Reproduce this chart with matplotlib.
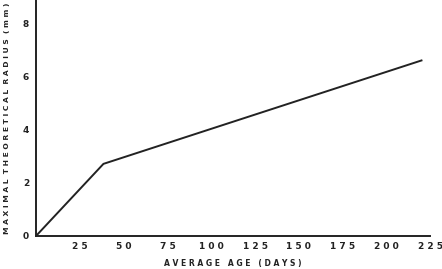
import numpy as np
import matplotlib.pyplot as plt

age = [0, 38.5, 220]
radius = [0, 2.72, 6.62]
xticks = [25, 50, 75, 100, 125, 150, 175, 200, 225]
yticks = [0, 2, 4, 6, 8]


def spaced(s):
    return " ".join(s)


fig = plt.figure(figsize=(4.42, 2.69), dpi=100)
ax = fig.add_axes([0.0814, 0.1227, 0.892, 0.8773])
ax.plot(age, radius, color="#222222", linewidth=1.4)
ax.set_xlim(0, 225)
ax.set_ylim(0, 8.9)
ax.set_xticks(xticks)
ax.set_xticklabels([spaced(str(t)) for t in xticks], fontsize=6.5, fontweight="bold", color="#222222")
ax.set_yticks(yticks)
ax.set_yticklabels([str(t) for t in yticks], fontsize=6.5, fontweight="bold", color="#222222")
ax.tick_params(axis="y", length=0, pad=5)
ax.tick_params(axis="x", length=0, pad=4)
for s in ["top", "right"]:
    ax.spines[s].set_visible(False)
for s in ["left", "bottom"]:
    ax.spines[s].set_linewidth(1.4)
    ax.spines[s].set_color("#222222")

ax.set_xlabel("A V E R A G E   A G E   ( D A Y S )", fontsize=5.5, fontweight="bold",
              color="#222222", labelpad=6)
ax.set_ylabel("M A X I M A L  T H E O R E T I C A L  R A D I U S  ( m m )", fontsize=5.4,
              fontweight="bold", color="#222222", labelpad=9)

fig.savefig("out.png", dpi=100)
